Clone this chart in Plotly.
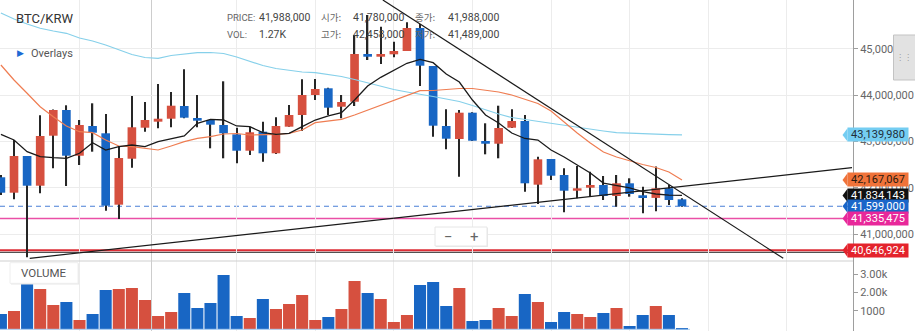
import plotly.graph_objects as go

W, H = 915, 331
PLOT_W = 853  # plot area width (right margin holds the price axis)

# ---------------- data ----------------
candle_idx = list(range(53))

opens = [42225000, 41892000, 42685000, 42043000, 43123000, 43678000, 42691000, 43333000, 43175000, 41633000,
         42626000, 43296000, 43426000, 43490000, 43765000, 43505000, 43462000, 43354000, 43153000, 42799000,
         43210000, 42743000, 43318000, 43570000, 44002000, 44147000, 43749000, 43857000, 44888000, 44829000,
         44881000, 44952000, 45449000, 44629000, 43333000, 43052000, 43620000, 43009000, 42950000, 43296000,
         43441000, 42065000, 42620000, 42274000, 41935000, 42000000, 42058000, 41821000, 42095000, 41836000,
         41780000, 41988000, 41749000]
highs = [42274000, 43030000, 42685000, 43564000, 43690000, 43780000, 43462000, 43823000, 43592000, 42901000,
         43981000, 43851000, 44240000, 44067000, 44557000, 44002000, 43475000, 44298000, 43296000, 43318000,
         43426000, 43521000, 43786000, 44341000, 44348000, 44160000, 44002000, 45298000, 45730000, 45477000,
         45153000, 45572000, 45536000, 44629000, 43693000, 43678000, 43630000, 43391000, 43771000, 43693000,
         43570000, 42670000, 42620000, 42419000, 42469000, 42346000, 42253000, 42274000, 42203000, 42022000,
         42458000, 42058000, 41771000]
lows = [41842000, 41749000, 40500000, 41879000, 42419000, 42037000, 42490000, 42778000, 41503000, 41324000,
        42432000, 43210000, 43283000, 43305000, 43500000, 43305000, 42851000, 42635000, 42527000, 42706000,
        42562000, 42730000, 43318000, 43225000, 43894000, 43570000, 43499000, 43765000, 44758000, 44672000,
        44816000, 44950000, 44197000, 43102000, 42829000, 42238000, 43009000, 42721000, 42635000, 43290000,
        41914000, 41648000, 42166000, 41469000, 41771000, 41806000, 41734000, 41590000, 41806000, 41447000,
        41489000, 41626000, 41590000]
closes = [41892000, 42685000, 42043000, 43117000, 43678000, 42691000, 43354000, 43188000, 41611000, 42641000,
          43305000, 43462000, 43490000, 43771000, 43512000, 43447000, 43361000, 43175000, 42799000, 43197000,
          42743000, 43333000, 43570000, 44002000, 44132000, 43728000, 43851000, 44888000, 44829000, 44888000,
          44952000, 45449000, 44635000, 43339000, 43058000, 43620000, 43015000, 42950000, 43289000, 43441000,
          42095000, 42613000, 42259000, 41935000, 41987000, 42058000, 41821000, 42095000, 41864000, 41793000,
          41988000, 41734000, 41599000]
volumes = [834, 997, 2632, 2196, 1324, 1488, 507, 834, 2142, 2196,
           2251, 1597, 725, 943, 1978, 1161, 1433, 2959, 725, 616,
           1651, 1106, 1379, 1869, 507, 670, 1106, 2632, 1978, 1651,
           398, 779, 2414, 2577, 1270, 2251, 452, 507, 1161, 725,
           1924, 1488, 398, 943, 834, 670, 888, 1161, 180, 779,
           1270, 779, 70]

ma_short = [43153000, 43030000, 42778000, 42670000, 42648000, 42635000, 42743000, 42972000, 42814000, 42886000,
            42922000, 42886000, 42994000, 43058000, 43117000, 43391000, 43477000, 43462000, 43333000, 43318000,
            43188000, 43153000, 43175000, 43318000, 43462000, 43549000, 43620000, 43894000, 44197000, 44384000,
            44527000, 44687000, 44773000, 44700000, 44456000, 44283000, 43894000, 43570000, 43397000, 43181000,
            43063000, 43030000, 42814000, 42663000, 42490000, 42317000, 42101000, 42048000, 41994000, 41914000,
            41864000, 41838000, 41834143]
ma_mid = [44650000, 44326000, 44039000, 43749000, 43533000, 43333000, 43210000, 43188000, 43030000, 42901000,
          42886000, 42851000, 42814000, 42901000, 42994000, 43067000, 43102000, 43160000, 43171000, 43138000,
          43138000, 43153000, 43175000, 43246000, 43404000, 43447000, 43477000, 43570000, 43678000, 43786000,
          43894000, 44002000, 44095000, 44099000, 44121000, 44143000, 44143000, 44099000, 44067000, 44002000,
          43916000, 43819000, 43657000, 43419000, 43181000, 42965000, 42771000, 42663000, 42577000, 42501000,
          42436000, 42339000, 42167067]
ma_long = [45773000, 45644000, 45536000, 45443000, 45384000, 45335000, 45233000, 45168000, 45082000, 44974000,
           44877000, 44812000, 44795000, 44855000, 44888000, 44916000, 44920000, 44898000, 44823000, 44737000,
           44639000, 44574000, 44531000, 44499000, 44484000, 44445000, 44402000, 44337000, 44261000, 44186000,
           44121000, 44067000, 44024000, 43970000, 43916000, 43862000, 43775000, 43678000, 43592000, 43516000,
           43473000, 43430000, 43391000, 43343000, 43300000, 43257000, 43225000, 43188000, 43175000, 43160000,
           43153000, 43145000, 43139980]

trend_down_x = [29.16, 59.73]
trend_down_y = [46054000, 40475000]
trend_up_x = [2.2, 64.98]
trend_up_y = [40475000, 42432000]

last_price = 41599000
level_pink = 41335475
level_red = 40646924
level_black = 40605000

price_ticks = [41000000, 42000000, 43000000, 44000000, 45000000]
vol_ticks = [1000, 2000, 3000]
vol_tick_text = ['1000', '2.00k', '3.00k']
grid_idx = [0, 6, 18, 24, 30, 36, 42, 48, 54, 60]
session_break = 11.5

header_rows = [
    [('PRICE:', '41,988,000'), ('시가:', '41,780,000'), ('종가:', '41,988,000')],
    [('VOL:', '1.27K'), ('고가:', '42,458,000'), ('저가:', '41,489,000')],
]

# ---------------- styling ----------------
RED = '#d6503f'
BLUE = '#1866c4'
FONT = 'Roboto, Arial, sans-serif'
KFONT = 'Noto Sans CJK KR, sans-serif'

PRICE_DOMAIN = [1 - 261 / H, 1]
VOL_DOMAIN = [0, 1 - 261 / H]


def PX(px):
    return px / PLOT_W


def PY(py):
    return 1 - py / H


colors = [RED if c >= o else BLUE for o, c in zip(opens, closes)]

fig = go.Figure()

# wicks
fig.add_trace(go.Bar(
    x=candle_idx, base=lows, y=[h - l for h, l in zip(highs, lows)], width=0.1,
    marker=dict(color='#262626', line=dict(width=0)), xaxis='x', yaxis='y', hoverinfo='skip'))
# bodies
fig.add_trace(go.Bar(
    x=candle_idx, base=[min(o, c) for o, c in zip(opens, closes)],
    y=[max(abs(c - o), 25000) for o, c in zip(opens, closes)], width=0.66,
    marker=dict(color=colors, line=dict(width=0)), xaxis='x', yaxis='y', hoverinfo='skip'))
# volume
fig.add_trace(go.Bar(
    x=candle_idx, y=volumes, width=0.92, marker=dict(color=colors, line=dict(width=0)),
    xaxis='x2', yaxis='y2', hoverinfo='skip'))

# moving averages
fig.add_trace(go.Scatter(x=candle_idx, y=ma_long, mode='lines', line=dict(color='#86d0ea', width=1.2),
                         xaxis='x', yaxis='y', hoverinfo='skip'))
fig.add_trace(go.Scatter(x=candle_idx, y=ma_mid, mode='lines', line=dict(color='#ef7d52', width=1.2),
                         xaxis='x', yaxis='y', hoverinfo='skip'))
fig.add_trace(go.Scatter(x=candle_idx, y=ma_short, mode='lines', line=dict(color='#1a1a1a', width=1.3),
                         xaxis='x', yaxis='y', hoverinfo='skip'))
# trend lines
fig.add_trace(go.Scatter(x=trend_down_x, y=trend_down_y, mode='lines', line=dict(color='#1a1a1a', width=1.2),
                         xaxis='x', yaxis='y', hoverinfo='skip'))
fig.add_trace(go.Scatter(x=trend_up_x, y=trend_up_y, mode='lines', line=dict(color='#1a1a1a', width=1.2),
                         xaxis='x', yaxis='y', hoverinfo='skip'))

shapes = []
# session separator
shapes.append(dict(type='line', xref='x', yref='paper', x0=session_break, x1=session_break, y0=0, y1=1,
                   line=dict(color='#cdcdcd', width=1), layer='below'))
# pane divider
shapes.append(dict(type='line', xref='paper', yref='paper', x0=0, x1=1, y0=PRICE_DOMAIN[0], y1=PRICE_DOMAIN[0],
                   line=dict(color='#cfcfcf', width=1), layer='above'))
# volume baseline
shapes.append(dict(type='line', xref='paper', yref='y2', x0=0, x1=PX(690), y0=0, y1=0,
                   line=dict(color='#a9cdf2', width=1), layer='above'))
# horizontal levels
shapes.append(dict(type='line', xref='paper', yref='y', x0=0, x1=1, y0=level_black, y1=level_black,
                   line=dict(color='#222222', width=1), layer='below'))
shapes.append(dict(type='line', xref='paper', yref='y', x0=0, x1=1, y0=level_red, y1=level_red,
                   line=dict(color='#dd2c35', width=2), layer='below'))
shapes.append(dict(type='line', xref='paper', yref='y', x0=0, x1=1, y0=level_pink, y1=level_pink,
                   line=dict(color='#ea4fa6', width=1.6), layer='below'))
shapes.append(dict(type='line', xref='paper', yref='y', x0=0, x1=1, y0=last_price, y1=last_price,
                   line=dict(color='#4a7fd6', width=1.1, dash='5px,4px'), layer='below'))

# zoom buttons box
shapes.append(dict(type='rect', xref='paper', yref='paper', x0=PX(436), x1=PX(488), y0=PY(247), y1=PY(228),
                   fillcolor='#e9e9e9', line=dict(width=0), layer='above'))
shapes.append(dict(type='rect', xref='paper', yref='paper', x0=PX(435), x1=PX(487), y0=PY(246), y1=PY(227),
                   fillcolor='white', line=dict(color='#e6e6e6', width=1), layer='above'))
# VOLUME label box
shapes.append(dict(type='rect', xref='paper', yref='paper', x0=PX(11), x1=PX(79), y0=PY(284.5), y1=PY(263.5),
                   fillcolor='#e8e8e8', line=dict(width=0), layer='above'))
shapes.append(dict(type='rect', xref='paper', yref='paper', x0=PX(10), x1=PX(78), y0=PY(283.3), y1=PY(262.7),
                   fillcolor='white', line=dict(color='#eeeeee', width=1), layer='above'))
# right scroll handle
shapes.append(dict(type='rect', xref='paper', yref='paper', x0=PX(893.5), x1=PX(916), y0=PY(80), y1=PY(35),
                   fillcolor='#e2e2e2', line=dict(color='#c3c3c3', width=1), layer='above'))

annotations = []

# price labels on the right axis
price_labels = [
    (ma_long[-1], '#74cdf2', '#1f2d3a'),
    (ma_mid[-1], '#f0733a', '#2a1a10'),
    (ma_short[-1], '#111111', 'white'),
    (last_price, '#1a66c9', 'white'),
    (level_pink, '#e8289a', 'white'),
    (level_red, '#e4232c', 'white'),
]
half = 6.6 / 46.3 * 1e6
for val, bg, fg in price_labels:
    shapes.append(dict(type='path', xref='paper', yref='y',
                       path=f'M {PX(842.5)},{val} L {PX(847.5)},{val + half} L {PX(847.5)},{val - half} Z',
                       fillcolor=bg, line=dict(width=0), layer='above'))
    annotations.append(dict(xref='paper', yref='y', x=1, xshift=-6, y=val, xanchor='left', yanchor='middle',
                            text=f'{val:,.0f}', showarrow=False, bgcolor=bg, width=58, height=11, borderpad=1,
                            align='center', font=dict(family=FONT, size=11, color=fg)))

# title & overlay menu
annotations.append(dict(xref='paper', yref='paper', x=PX(14), y=PY(19), xanchor='left', yanchor='middle',
                        text='BTC/KRW', showarrow=False, font=dict(family=FONT, size=13, color='#333333')))
annotations.append(dict(xref='paper', yref='paper', x=PX(15), y=PY(53), xanchor='left', yanchor='middle',
                        text='▶', showarrow=False, font=dict(family='DejaVu Sans', size=9, color='#1d6ad4')))
annotations.append(dict(xref='paper', yref='paper', x=PX(29), y=PY(54), xanchor='left', yanchor='middle',
                        text='Overlays', showarrow=False, font=dict(family=FONT, size=11, color='#555555')))

# header OHLC info
col_x = [(225, 257), (319, 351), (413, 446)]
row_y = [17, 34]
for r, row in enumerate(header_rows):
    for c, (lab, val) in enumerate(row):
        lx, vx = col_x[c]
        annotations.append(dict(xref='paper', yref='paper', x=PX(lx), y=PY(row_y[r]), xanchor='left',
                                yanchor='middle', text=lab, showarrow=False,
                                font=dict(family=KFONT if c > 0 else FONT, size=9.5, color='#666666')))
        annotations.append(dict(xref='paper', yref='paper', x=PX(vx), y=PY(row_y[r]), xanchor='left',
                                yanchor='middle', text=val, showarrow=False,
                                font=dict(family=FONT, size=10.5, color='#444444')))

# zoom buttons
annotations.append(dict(xref='paper', yref='paper', x=PX(448), y=PY(236.5), xanchor='center', yanchor='middle',
                        text='−', showarrow=False, font=dict(family=FONT, size=15, color='#666666')))
annotations.append(dict(xref='paper', yref='paper', x=PX(474), y=PY(236.5), xanchor='center', yanchor='middle',
                        text='+', showarrow=False, font=dict(family=FONT, size=15, color='#666666')))
# VOLUME label
annotations.append(dict(xref='paper', yref='paper', x=PX(44), y=PY(273), xanchor='center', yanchor='middle',
                        text='VOLUME', showarrow=False, font=dict(family=FONT, size=11.5, color='#555555')))
# scroll grip
annotations.append(dict(xref='paper', yref='paper', x=PX(904), y=PY(57.5), xanchor='center', yanchor='middle',
                        text='⋮⋮', showarrow=False, font=dict(family='DejaVu Sans', size=8, color='#9a9a9a')))

x_range = [-0.9 / 13.098, -0.9 / 13.098 + PLOT_W / 13.098]
price_range = [41000000 - 27 / 46.3 * 1e6, 41000000 + 234 / 46.3 * 1e6]
vol_range = [-1.7 / 18.35 * 1000, 68.3 / 18.35 * 1000]

axis_font = dict(family=FONT, size=11, color='#666666')

fig.update_layout(
    width=W, height=H,
    margin=dict(l=0, r=W - PLOT_W, t=0, b=0, pad=0),
    paper_bgcolor='white', plot_bgcolor='white',
    showlegend=False, barmode='overlay', hovermode=False,
    xaxis=dict(domain=[0, 1], anchor='y', range=x_range, showticklabels=False, ticks='',
               tickvals=grid_idx, showgrid=True, gridcolor='#ececec', gridwidth=1, zeroline=False,
               showline=False, fixedrange=True),
    xaxis2=dict(domain=[0, 1], anchor='y2', range=x_range, matches='x', showticklabels=False, ticks='',
                tickvals=grid_idx, showgrid=True, gridcolor='#ececec', gridwidth=1, zeroline=False,
                showline=False),
    yaxis=dict(domain=PRICE_DOMAIN, anchor='x', side='right', range=price_range,
               tickvals=price_ticks, ticktext=[f'{v:,}' for v in price_ticks],
               showgrid=True, gridcolor='#ececec', zeroline=False, showline=True, linecolor='#9e9e9e',
               linewidth=1, ticks='outside', ticklen=4, tickcolor='#9e9e9e', tickfont=axis_font),
    yaxis2=dict(domain=VOL_DOMAIN, anchor='x2', side='right', range=vol_range,
                tickvals=vol_ticks, ticktext=vol_tick_text, showgrid=False, zeroline=False,
                showline=True, linecolor='#9e9e9e', linewidth=1, ticks='outside', ticklen=4,
                tickcolor='#9e9e9e', tickfont=axis_font),
    shapes=shapes,
    annotations=annotations,
)

fig.write_html('out.html')
